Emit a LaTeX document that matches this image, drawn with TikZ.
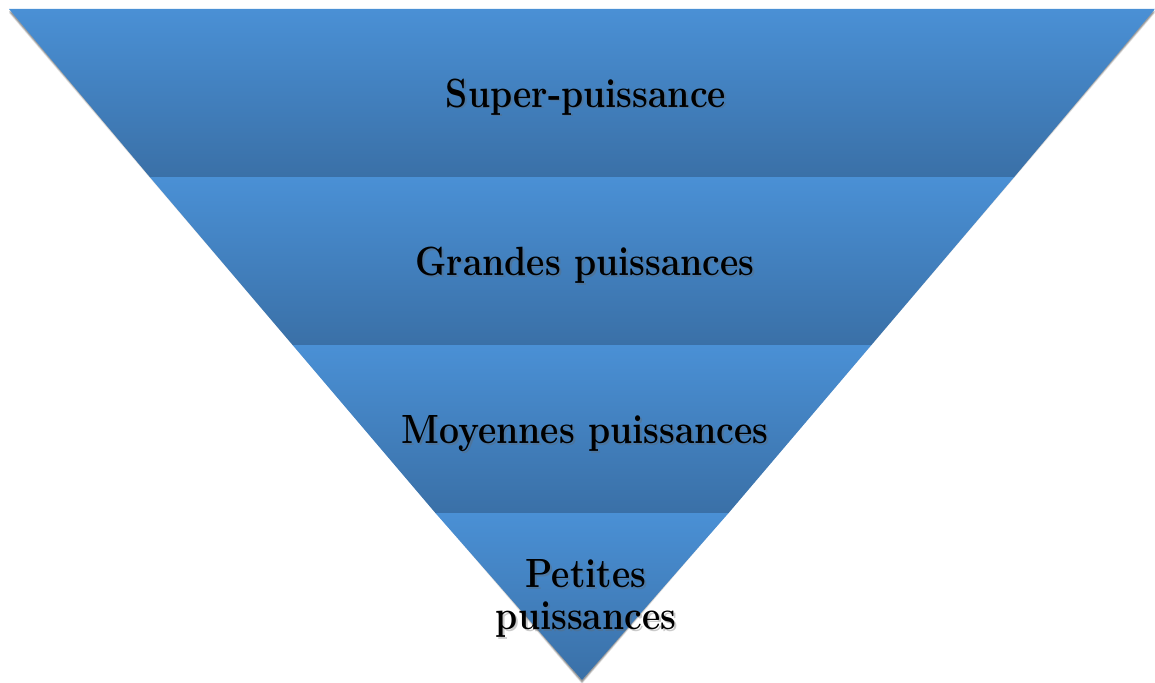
\documentclass[tikz,border=0pt]{standalone}
\usepackage{fontspec}
\usetikzlibrary{calc}
\definecolor{bandtop}{HTML}{4A90D5}
\definecolor{bandbot}{HTML}{3A70A7}
\newcommand{\tallt}[1]{\scalebox{1}[1.15]{#1}}
\tikzset{
  band/.style={top color=bandtop, bottom color=bandbot, draw=none},
  lbl/.style={font=\fontsize{35.5}{40}\selectfont\bfseries, text=black, inner sep=0pt, anchor=base},
  lblshadow/.style={font=\fontsize{35.5}{40}\selectfont\bfseries, text=black!60, opacity=0.35, inner sep=0pt, anchor=base}
}
\begin{document}
\begin{tikzpicture}[x=1pt,y=-1pt]
\useasboundingbox (0,0) rectangle (1155,682);
% corner coordinates
\coordinate (TL) at (9,9);
\coordinate (TR) at (1155,9);
\coordinate (A) at (582,680);
% drop shadow of the triangle
\foreach \d/\o in {4/0.10,3/0.15,2/0.2}{
  \fill[black, opacity=\o] ($(TL)+(0,\d)$) -- ($(TR)+(0,\d)$) -- ($(A)+(0,\d)$) -- cycle;
}
% bands
\path[band] (9,9) -- (1155,9) -- (1014.2,177) -- (149.8,177) -- cycle;
\path[band] (149.8,177) -- (1014.2,177) -- (871.4,345) -- (292.6,345) -- cycle;
\path[band] (292.6,345) -- (871.4,345) -- (728.6,513) -- (435.4,513) -- cycle;
\path[band] (435.4,513) -- (728.6,513) -- (582,680) -- cycle;
% labels
\node[lblshadow] (s1) at (588,109) {\tallt{Super-puissance}};
\node[lbl] (t1) at (586,107) {\tallt{Super-puissance}};
\node[lblshadow] (s2) at (587,277) {\tallt{Grandes puissances}};
\node[lbl] (t2) at (585,275) {\tallt{Grandes puissances}};
\node[lblshadow] (s4a) at (588,589) {\tallt{Petites}};
\node[lbl] (t4a) at (586,587) {\tallt{Petites}};
\node[lblshadow] (s3) at (587,445) {\tallt{Moyennes puissances}};
\node[lbl] (t3) at (585,443) {\tallt{Moyennes puissances}};
\node[lblshadow] (s4b) at (588,631) {\tallt{puissances}};
\node[lbl] (t4b) at (586,629) {\tallt{puissances}};
\end{tikzpicture}
\end{document}
